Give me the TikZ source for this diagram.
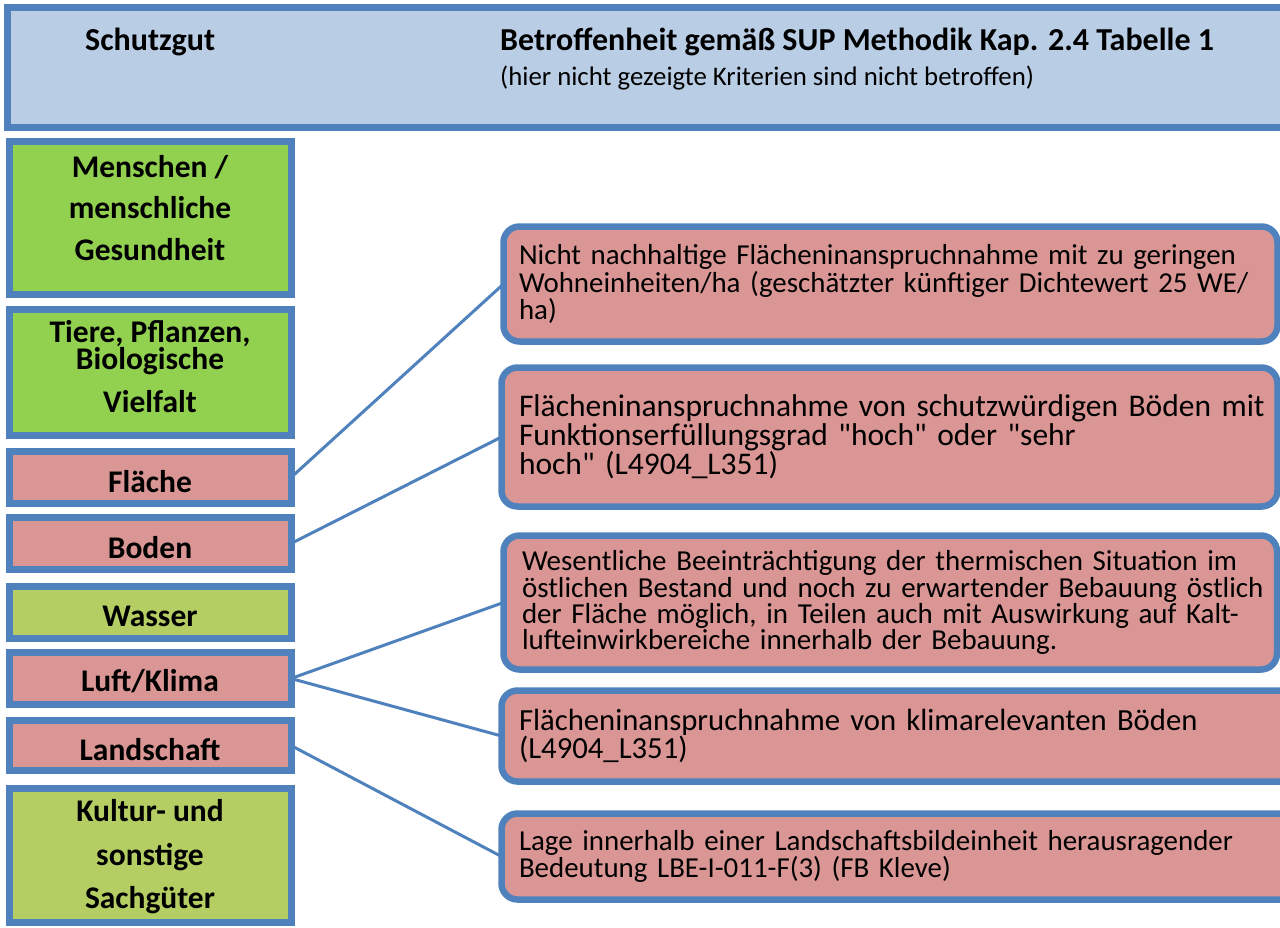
\documentclass[tikz,border=0pt]{standalone}
\usepackage{fontspec}
\setmainfont{Carlito}
\newfontfamily\rfont{Carlito}[WordSpace=0.8]
\definecolor{bord}{HTML}{4F81BD}
\definecolor{hdrfill}{HTML}{B9CDE5}
\definecolor{gfill}{HTML}{92D050}
\definecolor{ofill}{HTML}{B4CE63}
\definecolor{rfill}{HTML}{D99694}
\newcommand{\qq}{\symbol{34}}
\begin{document}
\begin{tikzpicture}[x=1pt,y=-1pt,
  lbox/.style={draw=bord, line width=7pt, minimum width=282pt, inner sep=0pt, outer sep=0pt},
  ltxt/.style={font=\bfseries\fontsize{31.5}{41.5}\selectfont, align=center, inner sep=0pt},
  rbox/.style={draw=bord, line width=6.5pt, rounded corners=16pt, fill=rfill, outer sep=0pt,
    anchor=west, align=left, inner ysep=0pt},
  rtxt/.style={font=\rfont\fontsize{#1}{24.5}\selectfont},
  conn/.style={draw=bord, line width=3pt}
]
\useasboundingbox (0,0) rectangle (1280,927);

% header
\node[draw=bord, line width=6.5pt, fill=hdrfill, minimum width=1290pt, minimum height=120pt,
  anchor=north west, outer sep=0pt, inner sep=0pt] (hdr) at (7.5,7.5) {};
\node[font=\bfseries\fontsize{32}{38}\selectfont, anchor=base west, inner sep=0pt] (h1) at (85,50) {Schutzgut};
\node[font=\bfseries\fontsize{32}{38}\selectfont, anchor=base west, inner sep=0pt] (h2) at (500,50) {Betroffenheit gemäß SUP Methodik Kap. 2.4 Tabelle 1};
\node[font=\fontsize{26.8}{30}\selectfont, anchor=base west, inner sep=0pt] (h3) at (500,85) {(hier nicht gezeigte Kriterien sind nicht betroffen)};

% left boxes
\node[lbox, fill=gfill, minimum height=153pt,
  label={[ltxt, yshift=10pt]center:Menschen /\\menschliche\\Gesundheit}] (mensch) at (150,218) {};
\node[lbox, fill=gfill, minimum height=126pt,
  label={[ltxt, font=\bfseries\fontsize{31.5}{26}\selectfont, yshift=6.3pt]center:Tiere, Pflanzen,\\Biologische\\[14pt]Vielfalt}] (tiere) at (150,372.5) {};
\node[lbox, fill=rfill, minimum height=52pt,
  label={[ltxt, yshift=-4pt]center:Fläche}] (flaeche) at (150,477.5) {};
\node[lbox, fill=rfill, minimum height=52pt,
  label={[ltxt, yshift=-4pt]center:Boden}] (boden) at (150,543.5) {};
\node[lbox, fill=ofill, minimum height=52pt,
  label={[ltxt, yshift=-4pt]center:Wasser}] (wasser) at (150,612.5) {};
\node[lbox, fill=rfill, minimum height=52pt,
  label={[ltxt, yshift=-2.5pt]center:Luft/Klima}] (luft) at (150,678.5) {};
\node[lbox, fill=rfill, minimum height=50pt,
  label={[ltxt, yshift=-4pt]center:Landschaft}] (landschaft) at (150,745.5) {};
\node[lbox, fill=ofill, minimum height=134pt,
  label={[ltxt, font=\bfseries\fontsize{31.5}{43.5}\selectfont, yshift=-1.5pt]center:Kultur- und\\sonstige\\Sachgüter}] (kultur) at (150,855.5) {};

% right boxes
\node[rbox, rtxt=28.9, minimum height=115pt, inner xsep=15.5pt, text width=743pt] (ra) at (503.5,284)
  {\mbox{Nicht nachhaltige Flächeninanspruchnahme mit zu geringen}\\
   \mbox{Wohneinheiten/ha (geschätzter künftiger Dichtewert 25 WE/}\\
   ha)};
\node[rbox, font=\rfont\fontsize{31.5}{26}\selectfont, minimum height=139pt, inner xsep=17.5pt, text width=741pt] (rb) at (501.5,437)
  {\mbox{Flächeninanspruchnahme von schutzwürdigen Böden mit}\\
   \mbox{Funktionserfüllungsgrad \qq hoch\qq{} oder \qq sehr}\\
   \mbox{hoch\qq{} (L4904\_L351)}};
\node[rbox, font=\rfont\fontsize{28.95}{24.7}\selectfont, minimum height=134pt, inner xsep=18.5pt, text width=736.5pt] (rc) at (503.5,602.5)
  {\mbox{Wesentliche Beeinträchtigung der thermischen Situation im}\\
   \mbox{östlichen Bestand und noch zu erwartender Bebauung östlich}\\
   \mbox{der Fläche möglich, in Teilen auch mit Auswirkung auf Kalt-}\\
   \mbox{lufteinwirkbereiche innerhalb der Bebauung.}};
\node[rbox, font=\rfont\fontsize{30.7}{25}\selectfont, minimum height=91pt, inner xsep=17.5pt, text width=763.5pt] (rd) at (501.5,736)
  {\mbox{Flächeninanspruchnahme von klimarelevanten Böden}\\
   \mbox{(L4904\_L351)}};
\node[rbox, rtxt=28.9, minimum height=86pt, inner xsep=17.5pt, text width=763.5pt] (re) at (501.5,856.5)
  {\mbox{Lage innerhalb einer Landschaftsbildeinheit herausragender}\\
   \mbox{Bedeutung LBE-I-011-F(3) (FB Kleve)}};

% connectors
\draw[conn] (flaeche.east) -- (ra.west);
\draw[conn] (boden.east) -- (rb.west);
\draw[conn] (luft.east) -- (rc.west);
\draw[conn] (luft.east) -- (rd.west);
\draw[conn] (landschaft.east) -- (re.west);
\end{tikzpicture}
\end{document}
